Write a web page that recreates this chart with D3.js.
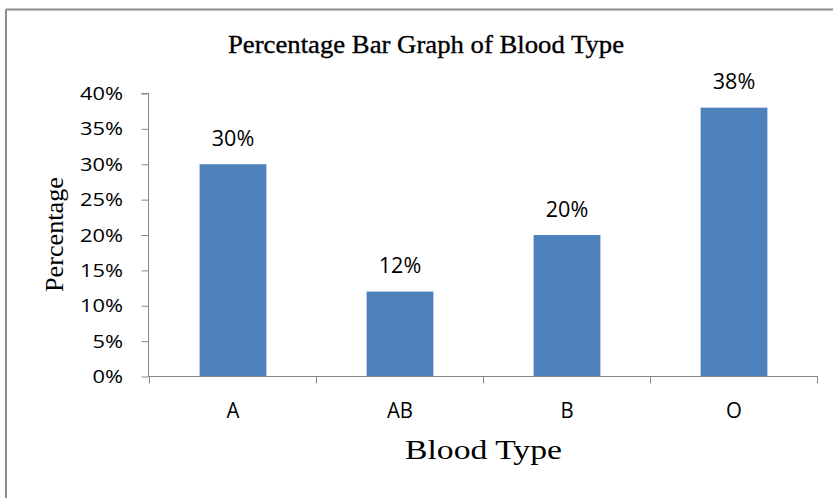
<!DOCTYPE html>
<html>
<head>
<meta charset="utf-8">
<script src="https://cdn.jsdelivr.net/npm/d3@7"></script>
<style>
html,body{margin:0;padding:0;background:#fff;}
svg{display:block;}
</style>
</head>
<body>
<svg id="chart" width="833" height="498"></svg>
<script>
const categories = ["A", "AB", "B", "O"];
const values = [0.30, 0.12, 0.20, 0.38];
const dataLabels = ["30%", "12%", "20%", "38%"];
const yTicks = [0, 0.05, 0.10, 0.15, 0.20, 0.25, 0.30, 0.35, 0.40];
const yTickLabels = ["0%", "5%", "10%", "15%", "20%", "25%", "30%", "35%", "40%"];
const chartTitle = "Percentage Bar Graph of Blood Type";
const xTitle = "Blood Type";
const yTitle = "Percentage";

const svg = d3.select("#chart");
const sansFont = "'Open Sans', 'Liberation Sans', sans-serif";
const serifFont = "'Liberation Serif', 'Times New Roman', serif";
const axisColor = "#868686";

// outer frame (top and left edges visible)
svg.append("path")
  .attr("d", "M6,9.5 H833 M6,9.5 V498")
  .attr("fill", "none")
  .attr("stroke", "#8c8c8c")
  .attr("stroke-width", 2);

const x = d3.scaleBand().domain(categories).range([149.5, 817.5])
  .paddingInner(0.6).paddingOuter(0.3);
const y = d3.scaleLinear().domain([0, 0.40]).range([376.5, 93.5]);

// bars
svg.append("g").selectAll("rect").data(values).join("rect")
  .attr("x", (d, i) => x(categories[i]))
  .attr("y", d => y(d))
  .attr("width", x.bandwidth())
  .attr("height", d => y(0) - y(d))
  .attr("fill", "#4F81BD");

// y axis
const yAxis = d3.axisLeft(y).tickValues(yTicks).tickSize(7).tickFormat(() => "");
const gy = svg.append("g").attr("transform", "translate(148.5,0)").call(yAxis);
gy.select(".domain").attr("stroke", axisColor).attr("d", `M-7,${y(0.40)}H0V${y(0)}`);
gy.selectAll(".tick line").attr("stroke", axisColor);

svg.append("g").selectAll("text").data(yTicks).join("text")
  .attr("transform", d => `translate(123,${y(d) + 6.5}) scale(1.18,1)`)
  .attr("text-anchor", "end")
  .attr("font-family", sansFont)
  .attr("font-size", 18.5)
  .attr("fill", "#000")
  .text((d, i) => yTickLabels[i]);

// x axis
const edges = categories.map(c => x(c) - x.step() * 0.3).concat([x.range()[1]]);
svg.append("line")
  .attr("x1", 148.5).attr("x2", 818)
  .attr("y1", y(0)).attr("y2", y(0))
  .attr("stroke", axisColor);
svg.append("g").selectAll("line").data(edges).join("line")
  .attr("x1", d => d).attr("x2", d => d)
  .attr("y1", y(0)).attr("y2", y(0) + 7)
  .attr("stroke", axisColor);

svg.append("g").selectAll("text").data(categories).join("text")
  .attr("transform", d => `translate(${x(d) + x.bandwidth() / 2},418) scale(0.95,1)`)
  .attr("text-anchor", "middle")
  .attr("font-family", sansFont)
  .attr("font-size", 21.5)
  .attr("fill", "#000")
  .text(d => d);

// data labels
svg.append("g").selectAll("text").data(values).join("text")
  .attr("transform", (d, i) => `translate(${x(categories[i]) + x.bandwidth() / 2},${y(d) - 18.5}) scale(0.98,1)`)
  .attr("text-anchor", "middle")
  .attr("font-family", sansFont)
  .attr("font-size", 22)
  .attr("fill", "#000")
  .text((d, i) => dataLabels[i]);

// titles
svg.append("text")
  .attr("x", 228).attr("y", 53)
  .attr("font-family", serifFont)
  .attr("font-size", 26)
  .attr("textLength", 396)
  .attr("lengthAdjust", "spacingAndGlyphs")
  .attr("fill", "#000")
  .attr("stroke", "#000")
  .attr("stroke-width", 0.35)
  .text(chartTitle);

svg.append("text")
  .attr("x", 405).attr("y", 458.5)
  .attr("font-family", serifFont)
  .attr("font-size", 28)
  .attr("textLength", 157)
  .attr("lengthAdjust", "spacingAndGlyphs")
  .attr("fill", "#000")
  .text(xTitle);

svg.append("text")
  .attr("transform", "translate(63,292) rotate(-90)")
  .attr("font-family", serifFont)
  .attr("font-size", 25)
  .attr("textLength", 115)
  .attr("lengthAdjust", "spacingAndGlyphs")
  .attr("fill", "#000")
  .text(yTitle);
</script>
</body>
</html>
